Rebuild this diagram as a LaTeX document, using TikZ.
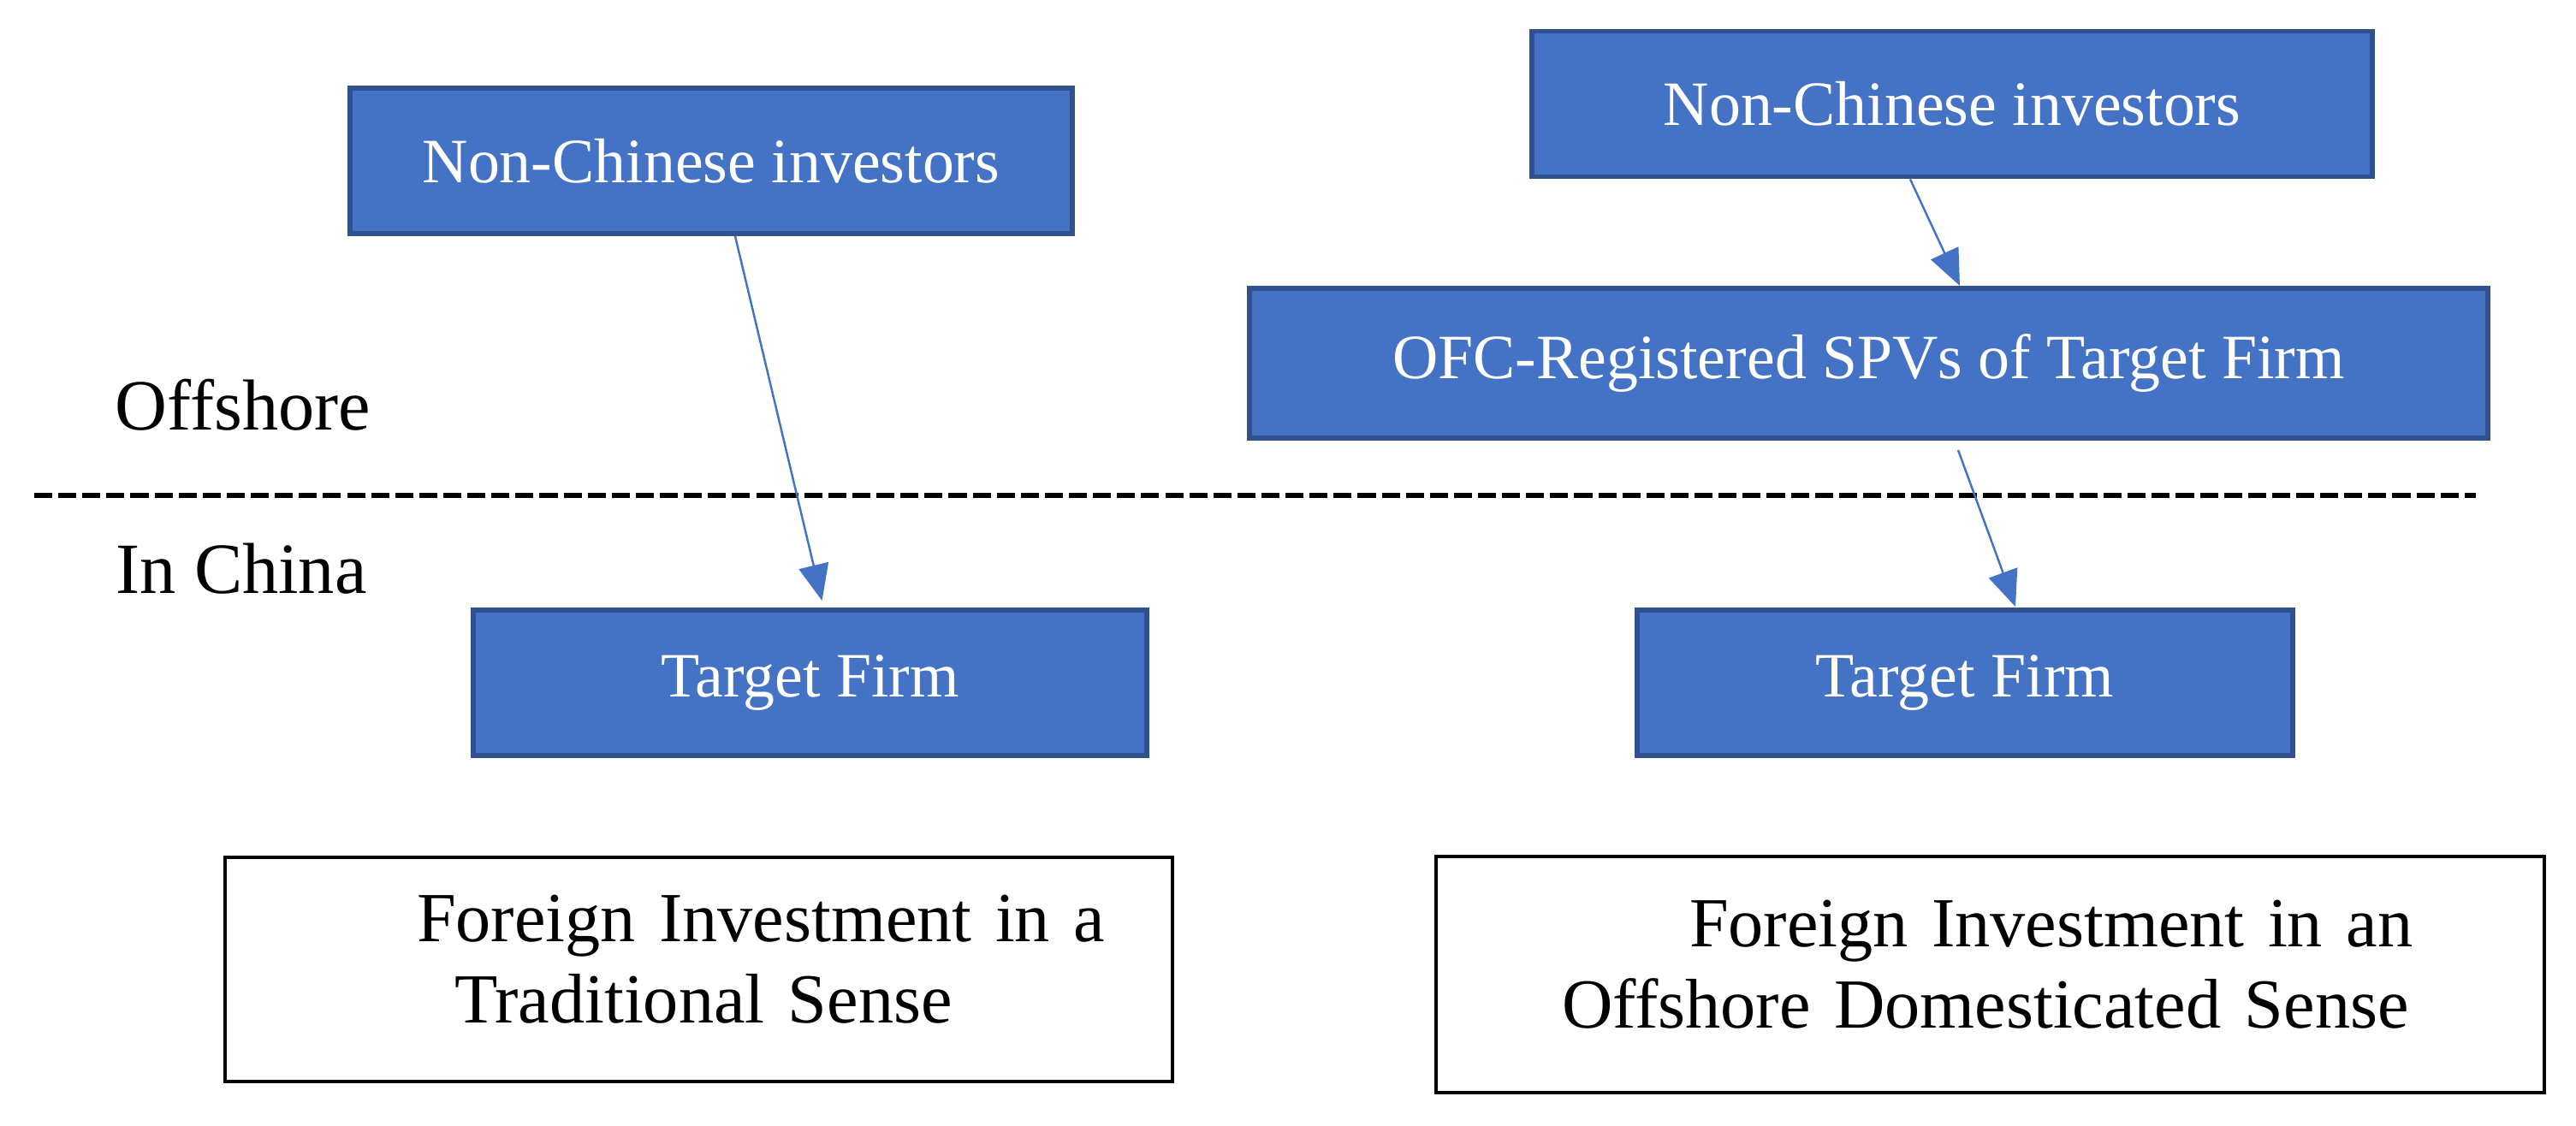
\documentclass[tikz,border=0pt]{standalone}
\usepackage{fontspec}
\setmainfont{Liberation Serif}
\usetikzlibrary{arrows.meta}
\definecolor{boxblue}{HTML}{4472C4}
\definecolor{boxedge}{HTML}{2F528F}
\newcommand{\bluefont}{\fontsize{21}{25}\selectfont}
\newcommand{\blackfont}{\fontsize{24}{27}\selectfont}
\newcommand{\notefont}{\fontsize{23.4}{27}\selectfont}

\begin{document}
\begin{tikzpicture}[
	entity/.style={draw=boxedge, line width=1.7pt, fill=boxblue, text=white, font=\bluefont, inner sep=0pt, minimum height=1.7cm},
	caption/.style={draw=black, line width=1.2pt, inner sep=0pt, font=\notefont, align=left},
	region/.style={font=\blackfont, inner sep=0pt, anchor=base west},
	flow/.style={-{Triangle[length=12pt,width=10pt]}, draw=boxblue, line width=0.7pt}
]
	\useasboundingbox (0,0) rectangle (30.10,13.15);
	\node (ncil) [entity, minimum width=8.44cm] at (8.31,11.27) {Non-Chinese investors};
	\node (ncir) [entity, minimum width=9.82cm] at (22.81,11.935) {Non-Chinese investors};
	\node (ofc) [entity, minimum width=14.47cm, minimum height=1.75cm] at (21.835,8.905) {OFC-Registered SPVs of Target Firm};
	\node (tfl) [entity, minimum width=7.87cm] at (9.465,5.17) {Target Firm};
	\node (tfr) [entity, minimum width=7.66cm] at (22.96,5.17) {Target Firm};
	\node (offshore) [region] at (1.34,8.13) {Offshore};
	\node (inchina) [region] at (1.35,6.22) {In China};
	\coordinate (borderw) at (0.40,7.36);
	\coordinate (bordere) at (28.93,7.36);
	\draw [black, line width=1.7pt, dash pattern=on 6pt off 2pt] (borderw) -- (bordere);
	\node (tradl) [caption, text width=11.07cm, minimum height=2.62cm] at (8.165,1.82) {%
		\hspace*{2.24cm}Foreign Investment in a\\
		\hspace*{2.68cm}Traditional Sense\rule[-0.24cm]{0pt}{0.24cm}};
	\node (domr) [caption, text width=12.95cm, minimum height=2.76cm] at (23.255,1.76) {%
		\hspace*{2.96cm}Foreign Investment in an\\
		\hspace*{1.47cm}Offshore Domesticated Sense\rule[-0.25cm]{0pt}{0.25cm}};
	\draw [flow] ([xshift=0.28cm]ncil.south) -- ([xshift=0.14cm,yshift=0.08cm]tfl.north);
	\draw [flow] ([xshift=-0.49cm]ncir.south) -- ([xshift=1.065cm]ofc.north);
	\draw [flow] ([xshift=1.045cm,yshift=-0.11cm]ofc.south) -- ([xshift=0.59cm,yshift=0.01cm]tfr.north);
\end{tikzpicture}
\end{document}
